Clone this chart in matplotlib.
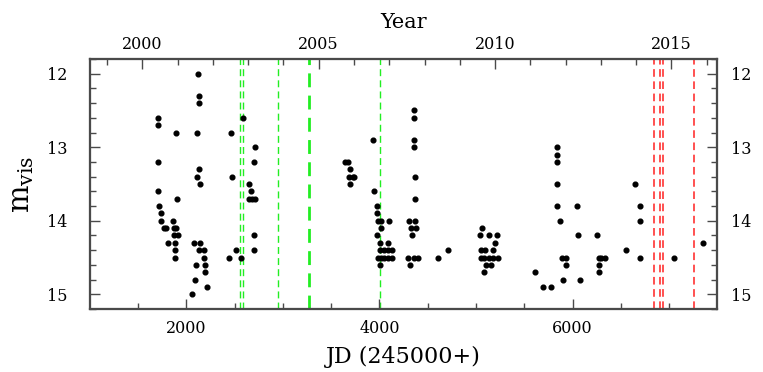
import matplotlib
matplotlib.use("Agg")
import matplotlib.pyplot as plt
from matplotlib.ticker import MultipleLocator, FixedLocator

plt.rcParams['font.family'] = ['DejaVu Serif']
plt.rcParams['mathtext.fontset'] = 'dejavuserif'

# Observations: JD - 2450000 and visual magnitude
jd = [1702, 1702, 1706, 1709, 1720, 1733, 1733, 1765, 1785, 1810, 1862, 1870, 1893, 1870, 1910,
      1886, 1882, 1879, 1893, 1906,
      2117, 2128, 2132, 2111, 2135, 2107, 2138, 2076, 2138, 2135, 2187, 2187, 2104, 2197, 2194,
      2093, 2218, 2062,
      2464, 2474, 2447, 2516, 2564, 2585,
      2709, 2706, 2651, 2665, 2650, 2680, 2710, 2696, 2696,
      3644, 3679, 3696, 3686, 3721, 3737, 3696,
      3938, 3945, 3973, 3973, 3980, 4015, 4098, 4015, 3973, 4004, 4084, 4007, 4042, 4090, 4126,
      3980, 4015, 4049, 4090, 4126, 4004,
      4354, 4354, 4354, 4354, 4364, 4368, 4302, 4364, 4326, 4378, 4336, 4298, 4361, 4395, 4313,
      4603, 4710,
      5063, 5039, 5133, 5222, 5195, 5056, 5094, 5177, 5053, 5087, 5139, 5177, 5226, 5102, 5157, 5087,
      5607, 5693, 5780, 5834, 5834, 5834, 5842, 5842, 5866, 5890, 5935, 5928, 5901, 6047, 6057,
      6074, 6257, 6275, 6299, 6333, 6275, 6275, 6552, 6645, 6697, 6700, 6697, 7054, 7348]
mag = [12.6, 12.7, 13.2, 13.6, 13.8, 13.9, 14.0, 14.1, 14.1, 14.3, 14.0, 14.1, 14.1, 14.2, 14.2,
       14.3, 14.4, 14.5, 12.8, 13.7,
       12.0, 12.3, 12.4, 12.8, 13.3, 13.4, 13.5, 14.3, 14.3, 14.4, 14.4, 14.5, 14.6, 14.6, 14.7,
       14.8, 14.9, 15.0,
       12.8, 13.4, 14.5, 14.4, 14.5, 12.6,
       13.0, 13.2, 13.5, 13.6, 13.7, 13.7, 13.7, 14.2, 14.4,
       13.2, 13.2, 13.3, 13.4, 13.4, 13.4, 13.5,
       12.9, 13.6, 13.8, 13.9, 14.0, 14.0, 14.0, 14.1, 14.2, 14.3, 14.3, 14.4, 14.4, 14.4, 14.4,
       14.5, 14.5, 14.5, 14.5, 14.5, 14.6,
       12.5, 12.6, 12.9, 13.0, 13.4, 13.7, 14.0, 14.0, 14.1, 14.1, 14.2, 14.5, 14.5, 14.5, 14.6,
       14.5, 14.4,
       14.1, 14.2, 14.2, 14.2, 14.3, 14.4, 14.4, 14.4, 14.5, 14.5, 14.5, 14.5, 14.5, 14.6, 14.6, 14.7,
       14.7, 14.9, 14.9, 13.0, 13.1, 13.2, 13.5, 13.8, 14.0, 14.5, 14.5, 14.6, 14.8, 13.8, 14.2,
       14.8, 14.2, 14.5, 14.5, 14.5, 14.6, 14.7, 14.4, 13.5, 13.8, 14.0, 14.5, 14.5, 14.3]

# Event epochs (vertical dashed lines)
green_jd = [2553, 2585, 2952, 3270, 4010]
green_width = [1.0, 1.0, 1.0, 2.0, 1.0]
red_jd = [6842, 6904, 6935, 7262]

year_major = [2000, 2005, 2010, 2015]
year_minor = list(range(1998, 2018))

jd_lim = (1000, 7500)
mag_lim = (15.2, 11.8)

def jd2yr(x):
    return 2000.0 + (x - 1545.0) / 365.25

fig = plt.figure(figsize=(7.63, 3.72), dpi=100)
ax = fig.add_axes([0.1176, 0.1694, 0.8227, 0.672])

frame_col = '#4a4a4a'
for x, w in zip(green_jd, green_width):
    ax.axvline(x, color='#22ee22', lw=w, ls=(0, (5, 3)), zorder=1)
for x in red_jd:
    ax.axvline(x, color='#ff2020', lw=1.1, ls=(0, (5, 3)), zorder=1)

ax.plot(jd, mag, 'o', color='black', ms=3.4, mec='black', zorder=3)

ax.set_xlim(*jd_lim)
ax.set_ylim(*mag_lim)

ax.xaxis.set_major_locator(MultipleLocator(2000))
ax.xaxis.set_minor_locator(FixedLocator([1500, 2500, 3000, 3500, 4500, 5000, 5500, 6500, 7000]))
ax.yaxis.set_major_locator(MultipleLocator(1))
ax.yaxis.set_minor_locator(MultipleLocator(0.2))

ax.tick_params(which='both', direction='in', color=frame_col, top=False, right=False)
ax.tick_params(axis='x', which='major', length=7, width=1.0, labelsize=11.5, pad=8)
ax.tick_params(axis='y', which='major', length=7, width=1.0, labelsize=11.5, pad=16)
ax.tick_params(which='minor', length=4, width=1.0)

for s in ax.spines.values():
    s.set_color(frame_col)
    s.set_linewidth(1.5)

ax.set_xlabel('JD (245000+)', fontsize=16, labelpad=6)
ax.set_ylabel(r'$\mathrm{m}_{\mathrm{vis}}$', fontsize=21, labelpad=8)

# top axis: calendar years
axt = ax.twiny()
axt.set_xlim(jd2yr(jd_lim[0]), jd2yr(jd_lim[1]))
axt.xaxis.set_major_locator(FixedLocator(year_major))
axt.xaxis.set_minor_locator(FixedLocator(year_minor))
axt.tick_params(which='both', direction='in', color=frame_col)
axt.tick_params(which='major', length=7, width=1.0, labelsize=11.5, pad=4)
axt.tick_params(which='minor', length=4, width=1.0)
axt.set_xlabel('Year', fontsize=15, labelpad=6)
for s in axt.spines.values():
    s.set_color(frame_col)
    s.set_linewidth(1.5)

# right axis: same magnitudes
axr = ax.twinx()
axr.set_ylim(*mag_lim)
axr.yaxis.set_major_locator(MultipleLocator(1))
axr.yaxis.set_minor_locator(MultipleLocator(0.2))
axr.tick_params(which='both', direction='in', color=frame_col)
axr.tick_params(which='major', length=7, width=1.0, labelsize=11.5, pad=10)
axr.tick_params(which='minor', length=4, width=1.0)
for s in axr.spines.values():
    s.set_color(frame_col)
    s.set_linewidth(1.5)

fig.savefig('out.png', dpi=100)
